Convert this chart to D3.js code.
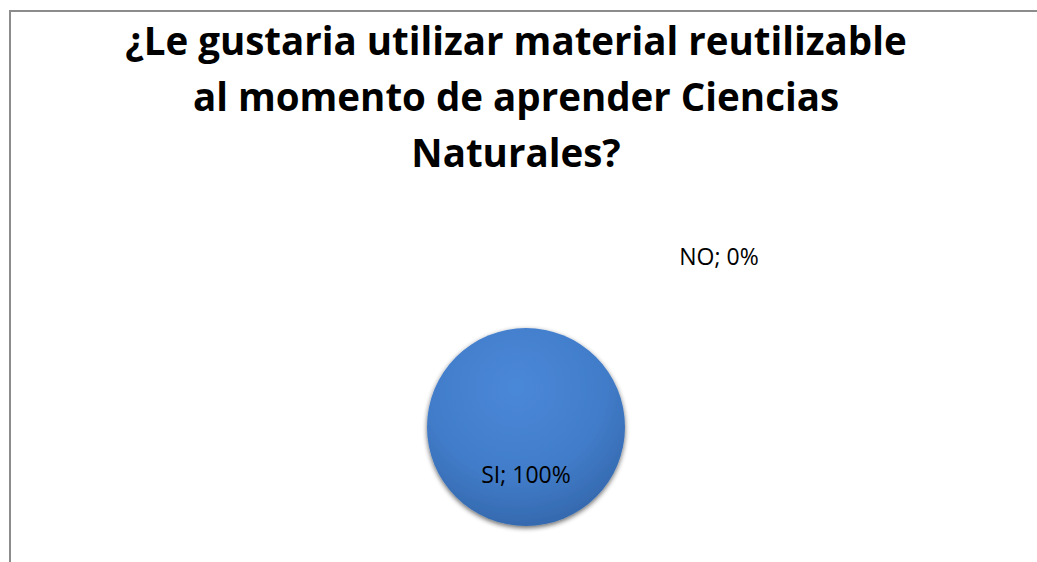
<!DOCTYPE html>
<html>
<head>
<meta charset="utf-8">
<script src="https://cdn.jsdelivr.net/npm/d3@7"></script>
<style>
  body { margin: 0; background: #fff; }
  svg { display: block; }
</style>
</head>
<body>
<div id="chart"></div>
<script>
// data
const categories = ["SI", "NO"];
const values = [100, 0];
const titleLines = ["¿Le gustaria utilizar material reutilizable",
                    "al momento de aprender Ciencias",
                    "Naturales?"];

const width = 1037, height = 562;
const cx = 526, cy = 427, radius = 99;

const svg = d3.select("#chart").append("svg")
    .attr("width", width)
    .attr("height", height);

const defs = svg.append("defs");

const grad = defs.append("radialGradient")
    .attr("id", "pieGrad")
    .attr("cx", "45%").attr("cy", "30%").attr("r", "75%");
grad.append("stop").attr("offset", "0%").attr("stop-color", "#4a88d8");
grad.append("stop").attr("offset", "60%").attr("stop-color", "#417cc9");
grad.append("stop").attr("offset", "100%").attr("stop-color", "#3366aa");

const shadow = defs.append("filter").attr("id", "shadow")
    .attr("x", "-20%").attr("y", "-20%").attr("width", "140%").attr("height", "140%");
shadow.append("feGaussianBlur").attr("in", "SourceAlpha").attr("stdDeviation", 2.5).attr("result", "b");
shadow.append("feOffset").attr("in", "b").attr("dx", 0).attr("dy", 2).attr("result", "o");
shadow.append("feComponentTransfer").attr("in", "o").attr("result", "s")
  .append("feFuncA").attr("type", "linear").attr("slope", 0.6);
const merge = shadow.append("feMerge");
merge.append("feMergeNode").attr("in", "s");
merge.append("feMergeNode").attr("in", "SourceGraphic");

// chart area border (right & bottom edges fall outside the picture)
svg.append("path")
    .attr("d", "M10," + height + " L10,11 L" + width + ",11")
    .attr("fill", "none")
    .attr("stroke", "#8c8c8c")
    .attr("stroke-width", 2);

// title
const title = svg.append("text")
    .attr("text-anchor", "middle")
    .attr("font-family", "Open Sans, sans-serif")
    .attr("font-weight", "bold")
    .attr("font-size", "31px")
    .attr("fill", "#000");
title.selectAll("tspan")
  .data(titleLines)
  .join("tspan")
    .attr("x", 516)
    .attr("y", (d, i) => 55 + i * 56)
    .text(d => d);

// size the title so its first line spans about the same width as the original
const w0 = title.select("tspan").node().getComputedTextLength();
title.attr("font-size", (31 * 781 / w0).toFixed(1) + "px");

// pie
const pie = d3.pie().sort(null).value(d => d.value);
const arcs = pie(categories.map((c, i) => ({name: c, value: values[i]})));

const arc = d3.arc().innerRadius(0).outerRadius(radius);

const g = svg.append("g").attr("transform", `translate(${cx},${cy})`);

g.selectAll("path.slice")
  .data(arcs.filter(d => d.value > 0))
  .join("path")
    .attr("class", "slice")
    .attr("d", arc)
    .attr("fill", "url(#pieGrad)")
    .attr("filter", "url(#shadow)");

// label placement (layout, not data)
const labelPos = {SI: [0, 56], NO: [193, -162]};

g.selectAll("text.lbl")
  .data(arcs)
  .join("text")
    .attr("class", "lbl")
    .attr("x", d => labelPos[d.data.name][0])
    .attr("y", d => labelPos[d.data.name][1])
    .attr("text-anchor", "middle")
    .attr("font-family", "Open Sans, sans-serif")
    .attr("font-size", "23px")
    .attr("fill", "#000")
    .text(d => d.data.name + "; " + d.data.value + "%");
</script>
</body>
</html>
